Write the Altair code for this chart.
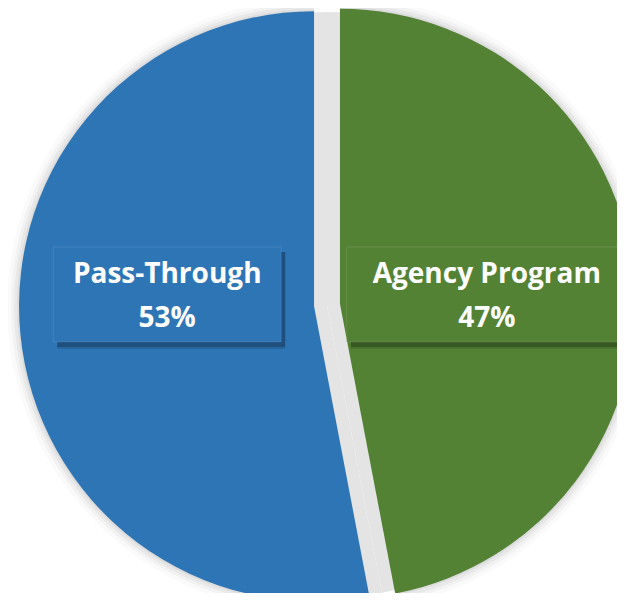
import altair as alt
import pandas as pd

# ---- data ----
categories = ["Agency Program", "Pass-Through"]
shares = [47, 53]
colors = ["#548235", "#2E75B6"]

df = pd.DataFrame({"category": categories, "share": shares, "order": list(range(len(categories)))})

# ---- layout constants (SVG coords) ----
CX, CY, R, EXPLODE = 319, 297, 295, 13
W, H = 609, 585
BOX_TOP, BOX_BOTTOM = 239, 334
SH_DX, SH_DY = 4, 5

base = alt.Chart(df).transform_window(
    t1="sum(share)", sort=[alt.SortField("order")], frame=[None, 0]
).transform_calculate(
    t0="datum.t1 - datum.share",
    ang="(datum.t1 - datum.share/2) / 100 * 2 * PI",
).transform_calculate(
    cx=f"{CX} + {EXPLODE} * sin(datum.ang)",
    cy=f"{CY} - {EXPLODE} * cos(datum.ang)",
).transform_calculate(
    lx=f"datum.cx + {R} * 0.5 * sin(datum.ang)",
    half="datum.category == 'Agency Program' ? 140 : 114",
    pct="datum.share + '%'",
).transform_calculate(
    bx0="datum.lx - datum.half",
    bx1="datum.lx + datum.half",
).transform_calculate(
    sx0=f"datum.bx0 + {SH_DX}",
    sx1=f"datum.bx1 + {SH_DX}",
)

theta_scale = alt.Scale(domain=[0, 100], range=[0, 6.283185307179586])
color = alt.Color("category:N", scale=alt.Scale(domain=categories, range=colors), legend=None)

def arc_layer(radius, centered=False, **mark):
    if centered:
        return base.mark_arc(radius=radius, **mark).encode(
            theta=alt.Theta("t0:Q", scale=theta_scale, stack=None),
            theta2="t1:Q",
            x=alt.value(CX),
            y=alt.value(CY),
        )
    return base.mark_arc(radius=radius, **mark).encode(
        theta=alt.Theta("t0:Q", scale=theta_scale, stack=None),
        theta2="t1:Q",
        x=alt.X("cx:Q", scale=None),
        y=alt.Y("cy:Q", scale=None),
    )

shadows = [
    arc_layer(R + 12, color="#000000", opacity=0.02),
    arc_layer(R + 8, color="#000000", opacity=0.03),
    arc_layer(R + 5, color="#000000", opacity=0.04),
    arc_layer(R + 2, color="#000000", opacity=0.05),
    arc_layer(R - 2, centered=True, color="#e4e4e4"),
]

slices = arc_layer(R).encode(color=color)

box_shadow_outer = base.mark_rect(color="#000000", opacity=0.12).encode(
    x=alt.X("sx0:Q", scale=None),
    x2="sx1:Q",
    y=alt.value(BOX_TOP + SH_DY),
    y2=alt.value(BOX_BOTTOM + SH_DY + 2),
)
box_shadow = base.mark_rect(color="#000000", opacity=0.22).encode(
    x=alt.X("sx0:Q", scale=None),
    x2="sx1:Q",
    y=alt.value(BOX_TOP + SH_DY),
    y2=alt.value(BOX_BOTTOM + SH_DY),
)
box = base.mark_rect(stroke="#ffffff", strokeOpacity=0.1, strokeWidth=1).encode(
    x=alt.X("bx0:Q", scale=None),
    x2="bx1:Q",
    y=alt.value(BOX_TOP),
    y2=alt.value(BOX_BOTTOM),
    color=color,
)

txt_props = dict(font="Open Sans", fontWeight="bold", fontSize=28, color="white",
                 align="center", baseline="alphabetic")
label1 = base.mark_text(**txt_props).encode(
    x=alt.X("lx:Q", scale=None), y=alt.value(275), text="category:N"
)
label2 = base.mark_text(**txt_props).encode(
    x=alt.X("lx:Q", scale=None), y=alt.value(319), text="pct:N"
)

chart = alt.layer(*shadows, slices, box_shadow_outer, box_shadow, box, label1, label2).properties(
    width=W, height=H,
    autosize=alt.AutoSizeParams(type="none"),
    padding=0,
    background="white",
).configure_view(stroke=None)

chart.save("out.html", embed_options={"renderer": "svg", "actions": False})
